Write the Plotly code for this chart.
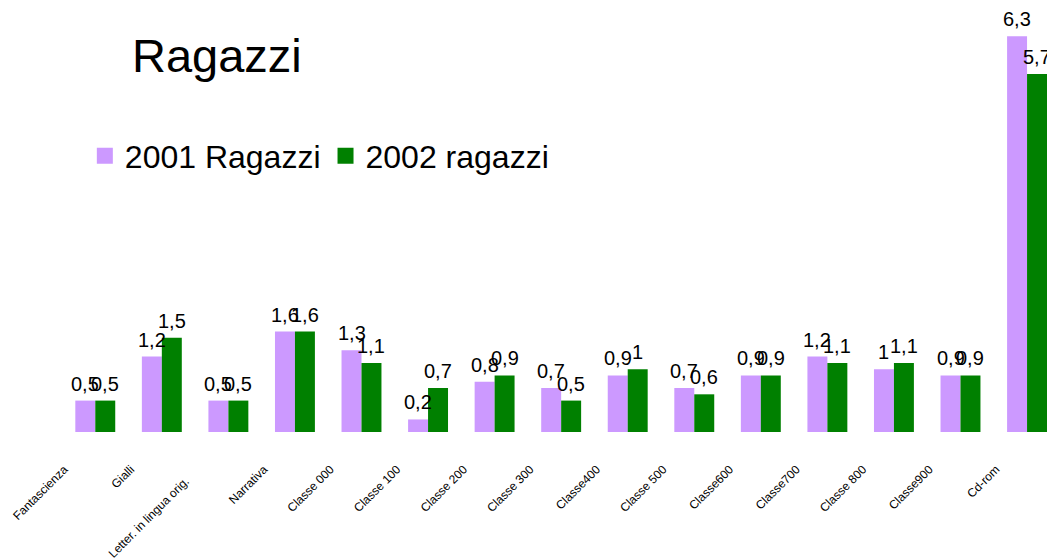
import plotly.graph_objects as go

categories = ["Fantascienza", "Gialli", "Letter. in lingua orig.", "Narrativa", "Classe 000",
              "Classe 100", "Classe 200", "Classe 300", "Classe400", "Classe 500",
              "Classe600", "Classe700", "Classe 800", "Classe900", "Cd-rom"]
tick_labels = ["Fantascienza", "Gialli", "Letter. in lingua orig." + "\u00a0" * 5, "Narrativa", "Classe 000",
               "Classe 100", "Classe 200", "Classe 300", "Classe400", "Classe 500",
               "Classe600", "Classe700", "Classe 800", "Classe900", "Cd-rom"]
vals_2001 = [0.5, 1.2, 0.5, 1.6, 1.3, 0.2, 0.8, 0.7, 0.9, 0.7, 0.9, 1.2, 1.0, 0.9, 6.3]
vals_2002 = [0.5, 1.5, 0.5, 1.6, 1.1, 0.7, 0.9, 0.5, 1.0, 0.6, 0.9, 1.1, 1.1, 0.9, 5.7]

PURPLE = "#CC99FF"
GREEN = "#008000"
FONT = "Liberation Sans, Arial, sans-serif"
BARGAP = 0.4

def fmt(v):
    return f"{v:g}".replace(".", ",")

x_idx = list(range(len(categories)))
half = (1 - BARGAP) / 4  # offset of each bar centre within its group

fig = go.Figure()
series = [("2001 Ragazzi", vals_2001, PURPLE, -half), ("2002 ragazzi", vals_2002, GREEN, half)]
for name, vals, col, off in series:
    fig.add_trace(go.Bar(
        x=x_idx, y=vals, name=name, marker=dict(color=col, line=dict(width=0)),
        showlegend=False, cliponaxis=False,
    ))
    fig.add_trace(go.Scatter(
        x=[None], y=[None], mode="markers", name=name,
        marker=dict(symbol="square", size=20, color=col),
        showlegend=True,
    ))
    for xi, v in zip(x_idx, vals):
        fig.add_annotation(
            x=xi + off, y=v, xref="x", yref="y", text=fmt(v), showarrow=False,
            xanchor="center", yanchor="bottom", yshift=4,
            font=dict(family=FONT, size=20, color="black"),
        )

fig.update_layout(
    width=1055, height=558,
    margin=dict(l=54, r=8, t=0, b=134, autoexpand=False),
    paper_bgcolor="white", plot_bgcolor="white",
    barmode="group", bargap=BARGAP, bargroupgap=0,
    font=dict(family=FONT, color="black"),
    title=dict(text="Ragazzi", x=0.198, xanchor="center", xref="container",
               y=0.915, yanchor="middle", yref="container",
               font=dict(size=47, color="black", family=FONT)),
    legend=dict(orientation="h", x=0.023, xanchor="left", y=0.651, yanchor="middle",
                font=dict(size=32, color="black"), bgcolor="rgba(0,0,0,0)",
                itemsizing="trace", traceorder="normal", itemwidth=30),
    xaxis=dict(tickmode="array", tickvals=x_idx, ticktext=tick_labels, automargin=False,
               range=[-0.5, 14.42], showgrid=False, zeroline=False, showline=False,
               ticks="", tickangle=-45, ticklabelshift=-31, ticklabelstandoff=27,
               tickfont=dict(size=12, family="Liberation Sans Narrow, " + FONT, color="black")),
    yaxis=dict(range=[0, 6.75], visible=False, showgrid=False, zeroline=False, automargin=False),
)

fig.write_html("out.html")
